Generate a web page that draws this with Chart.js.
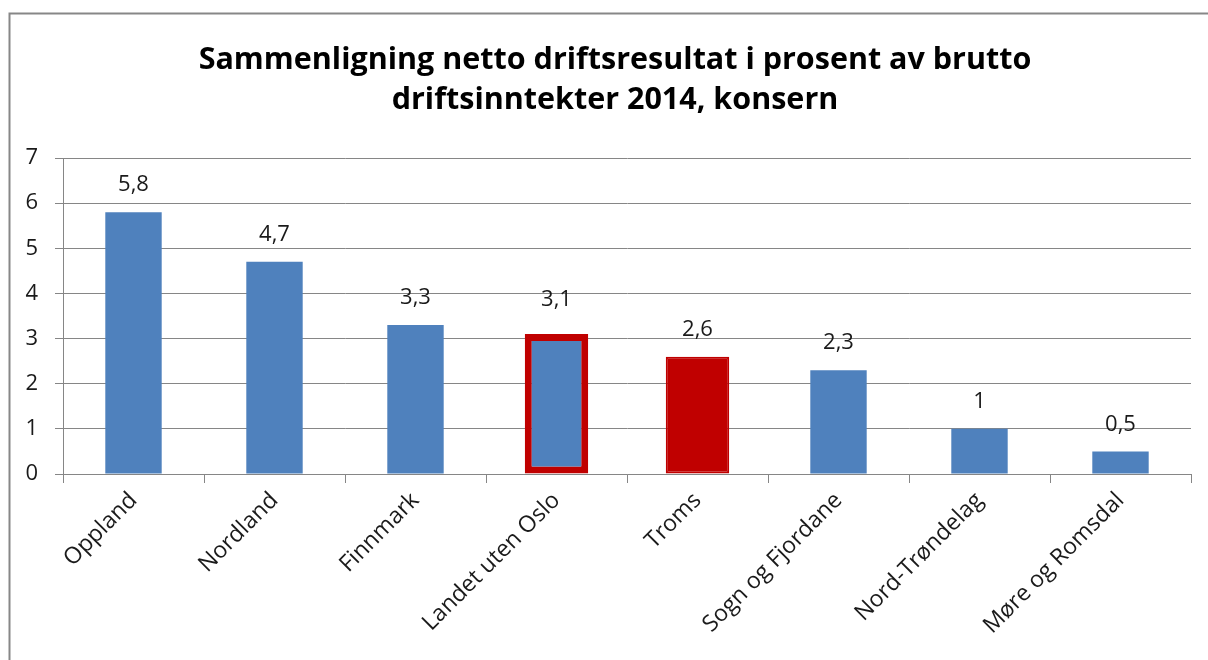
<!DOCTYPE html>
<html>
<head>
<meta charset="utf-8">
<script src="https://cdn.jsdelivr.net/npm/chart.js@4"></script>
<style>
    html, body { margin: 0; padding: 0; background: #fff; }
    #wrap { position: relative; width: 1208px; height: 660px; }
</style>
</head>
<body>
<div id="wrap"><canvas id="grafico" width="1208" height="660"></canvas></div>
<script>
// Data
const kategorier = ['Oppland', 'Nordland', 'Finnmark', 'Landet uten Oslo', 'Troms', 'Sogn og Fjordane', 'Nord-Trøndelag', 'Møre og Romsdal'];
const verdier = [5.8, 4.7, 3.3, 3.1, 2.6, 2.3, 1, 0.5];
const uthevet = ['Landet uten Oslo', 'Troms'];
const yTicks = [0, 1, 2, 3, 4, 5, 6, 7];
const tittel = ['Sammenligning netto driftsresultat i prosent av brutto', 'driftsinntekter 2014, konsern'];

const BLA = '#4F81BD';
const ROD = '#C00000';
const FONT = 'Open Sans';

const vanlige = verdier.map((v, i) => uthevet.includes(kategorier[i]) ? null : v);
const spesielle = verdier.map((v, i) => uthevet.includes(kategorier[i]) ? v : null);

// Ramme rundt diagrammet (bare topp og venstre synlig) + tittel
const rammePlugin = {
    id: 'ramme',
    beforeDraw(chart) {
        const ctx = chart.ctx;
        ctx.save();
        ctx.strokeStyle = '#878787';
        ctx.lineWidth = 2;
        ctx.beginPath();
        ctx.moveTo(9.5, 660);
        ctx.lineTo(9.5, 13.5);
        ctx.lineTo(1208, 13.5);
        ctx.stroke();

        // tittelen er litt forskjøvet mot høyre i originalen
        ctx.font = 'bold 30.5px ' + FONT;
        ctx.fillStyle = '#000';
        ctx.textAlign = 'center';
        ctx.textBaseline = 'middle';
        tittel.forEach((linje, i) => ctx.fillText(linje, 615, 60 + i * 40));
        ctx.restore();
    }
};

// Verdier over stolpene
const etikettPlugin = {
    id: 'etiketter',
    afterDatasetsDraw(chart) {
        const ctx = chart.ctx;
        ctx.save();
        ctx.font = '22px ' + FONT;
        ctx.fillStyle = '#1a1a1a';
        ctx.textAlign = 'center';
        ctx.textBaseline = 'middle';
        chart.data.datasets.forEach((ds, di) => {
            const meta = chart.getDatasetMeta(di);
            meta.data.forEach((bar, i) => {
                const v = ds.data[i];
                if (v === null || v === undefined) return;
                const bw = Array.isArray(ds.borderWidth) ? ds.borderWidth[i] : ds.borderWidth;
                const ekstra = bw > 3 ? 7 : 0;
                ctx.fillText(String(v).replace('.', ','), bar.x, bar.y - 27 - ekstra);
            });
        });
        ctx.restore();
    }
};

new Chart(document.getElementById('grafico').getContext('2d'), {
    type: 'bar',
    data: {
        labels: kategorier,
        datasets: [{
            data: vanlige,
            backgroundColor: BLA,
            borderWidth: 0,
            categoryPercentage: 1,
            barPercentage: 0.4,
            grouped: false
        }, {
            data: spesielle,
            backgroundColor: kategorier.map(k => k === 'Troms' ? ROD : BLA),
            borderColor: ROD,
            borderWidth: kategorier.map(k => k === 'Troms' ? 2 : 7),
            borderSkipped: false,
            categoryPercentage: 1,
            barPercentage: 0.45,
            grouped: false
        }]
    },
    options: {
        responsive: false,
        animation: false,
        layout: {
            padding: { left: 0, right: 17, top: 158, bottom: 0 }
        },
        plugins: {
            legend: { display: false },
            tooltip: { enabled: false },
            title: { display: false }
        },
        scales: {
            x: {
                offset: true,
                grid: {
                    display: true,
                    drawOnChartArea: false,
                    drawTicks: true,
                    tickLength: 9,
                    color: '#868686',
                    offset: true
                },
                border: { color: '#868686', width: 1 },
                ticks: {
                    color: '#1a1a1a',
                    font: { family: FONT, size: 23 },
                    maxRotation: 45,
                    minRotation: 45,
                    autoSkip: false,
                    padding: 4
                },
                afterFit(scale) { scale.height = 186; }
            },
            y: {
                min: 0,
                max: 7,
                afterBuildTicks(scale) { scale.ticks = yTicks.map(v => ({ value: v })); },
                grid: {
                    color: '#868686',
                    tickLength: 8,
                    drawTicks: true
                },
                border: { color: '#868686', width: 1 },
                ticks: {
                    color: '#1a1a1a',
                    font: { family: FONT, size: 22 },
                    padding: 17
                },
                afterFit(scale) { scale.width = 63; }
            }
        }
    },
    plugins: [rammePlugin, etikettPlugin]
});
</script>
</body>
</html>
